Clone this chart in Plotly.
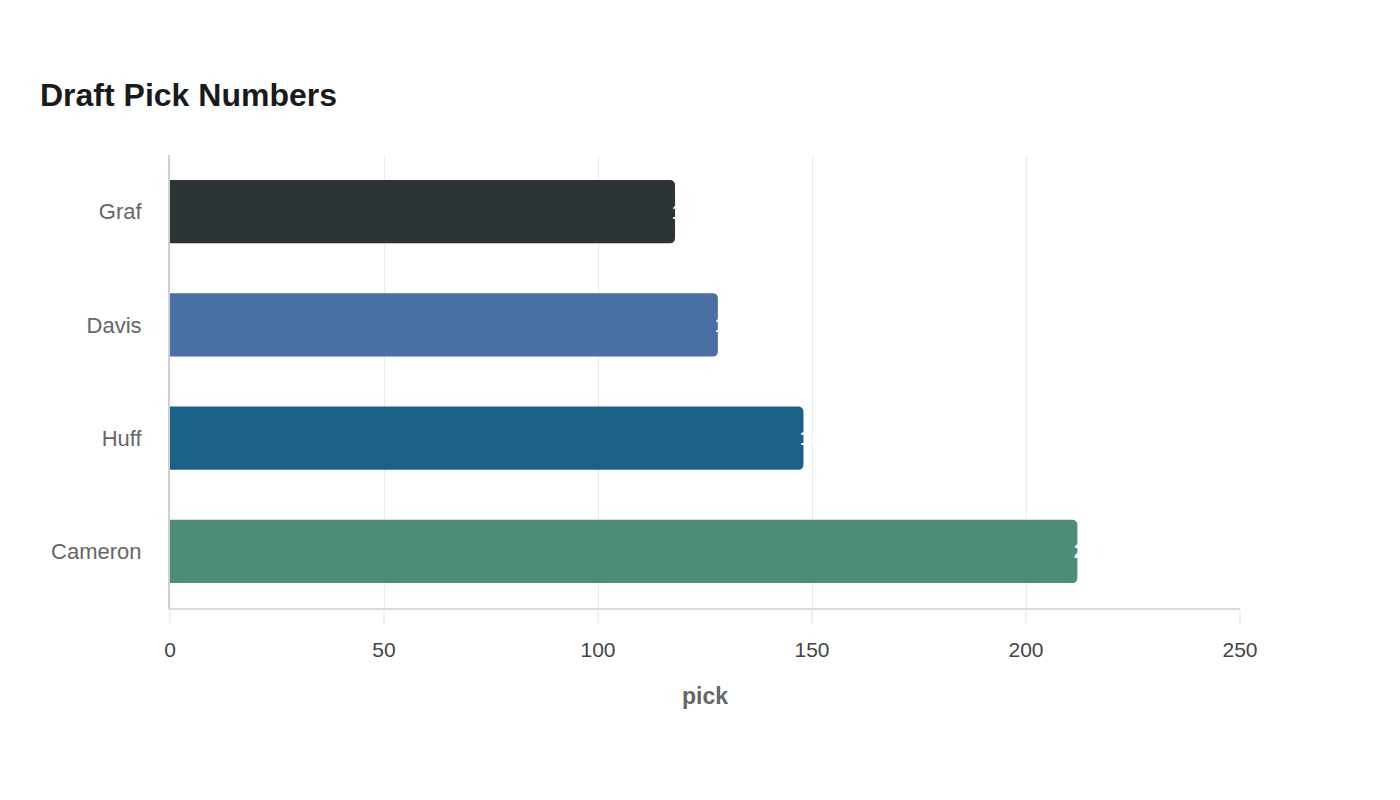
import plotly.graph_objects as go

players = ["Cameron", "Huff", "Davis", "Graf"]
picks = [212, 148, 128, 118]
colors = ["#4e8c7a", "#1a6188", "#4a6fa5", "#2d3436"]
x_ticks = [0, 50, 100, 150, 200, 250]

fig = go.Figure()
fig.add_trace(go.Bar(
    y=players, x=picks, orientation="h",
    marker=dict(color=colors, line=dict(width=0)),
    width=0.56, hoverinfo="x+y",
))
for p, v in zip(players, picks):
    fig.add_annotation(x=v, y=p, text=f"<b>{v}</b>", showarrow=False,
                       xanchor="left", xshift=-5, yanchor="middle",
                       font=dict(color="white", size=20, family="Liberation Sans, Arial"))

fig.update_layout(
    width=1400, height=800,
    paper_bgcolor="white", plot_bgcolor="white",
    margin=dict(l=170, r=160, t=155, b=192),
    barcornerradius=5,
    showlegend=False,
    font=dict(family="Liberation Sans, Arial, sans-serif"),
    title=dict(text="<b>Draft Pick Numbers</b>", x=40/1400, xanchor="left",
               y=1 - 95/800, yanchor="middle", xref="container", yref="container",
               font=dict(size=32, color="#1a1a1a")),
    xaxis=dict(range=[0, 250], tickvals=x_ticks, showgrid=True, gridcolor="#ebebeb",
               gridwidth=1, zeroline=False, showline=True, linecolor="#dcdcdc", linewidth=2,
               ticks="outside", ticklen=14, tickcolor="#f0f0f0", tickwidth=2,
               ticklabelstandoff=8,
               tickfont=dict(size=21, color="#444444"),
               title=dict(text="<b>pick</b>", font=dict(size=23, color="#666666"), standoff=28)),
    yaxis=dict(categoryorder="array", categoryarray=players, range=[-0.5, 3.5],
               showgrid=False, showline=True, linecolor="#d0d0d0", linewidth=2,
               ticks="", ticklabelstandoff=22,
               tickfont=dict(size=22, color="#666666")),
)
fig.write_html("out.html")
